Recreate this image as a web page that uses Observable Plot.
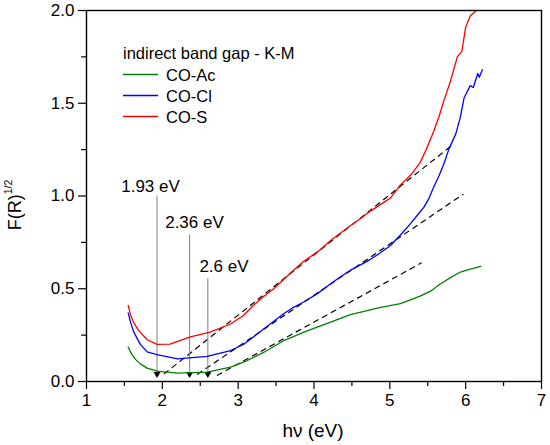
<!DOCTYPE html>
<html><head><meta charset="utf-8">
<script src="https://cdn.jsdelivr.net/npm/d3@7"></script>
<script src="https://cdn.jsdelivr.net/npm/@observablehq/plot@0.6"></script>
<style>body{margin:0;background:#fff}</style>
</head><body><div id="chart"></div>
<script>
const xTicks = [1,2,3,4,5,6,7];
const xMinor = [1.5,2.5,3.5,4.5,5.5,6.5];
const yTicks = [0,0.5,1.0,1.5,2.0];
const yMinor = [0.25,0.75,1.25,1.75];

const seriesNames = ["CO-Ac","CO-Cl","CO-S"];
const seriesColors = ["#008000","#0000ff","#ff0000"];

const acX = [1.55,1.60,1.65,1.71,1.80,1.93,2.20,2.59,2.90,3.12,3.34,3.60,3.87,4.05,4.22,4.48,4.88,5.14,5.40,5.55,5.67,5.80,5.93,6.05,6.20];
const acY = [0.185,0.145,0.118,0.095,0.072,0.056,0.045,0.05,0.077,0.113,0.158,0.22,0.266,0.295,0.32,0.36,0.40,0.42,0.46,0.49,0.527,0.56,0.59,0.605,0.62];

const clX = [1.55,1.58,1.62,1.67,1.71,1.80,1.93,2.20,2.59,2.90,3.07,3.20,3.34,3.47,3.60,3.73,3.87,4.05,4.22,4.35,4.48,4.62,4.75,4.88,5.01,5.14,5.27,5.36,5.45,5.52,5.58,5.65,5.71,5.78,5.87,5.93,5.98,6.06,6.10,6.16,6.18,6.22];
const clY = [0.37,0.32,0.27,0.23,0.20,0.16,0.145,0.122,0.135,0.167,0.20,0.24,0.284,0.325,0.365,0.40,0.43,0.475,0.527,0.565,0.60,0.63,0.66,0.695,0.733,0.79,0.85,0.895,0.94,0.99,1.05,1.11,1.17,1.254,1.335,1.425,1.53,1.595,1.585,1.66,1.64,1.68];

const sX = [1.55,1.58,1.62,1.67,1.71,1.80,1.93,2.10,2.37,2.63,2.90,3.07,3.20,3.34,3.47,3.60,3.73,3.87,4.05,4.22,4.35,4.48,4.62,4.75,4.88,5.01,5.14,5.27,5.40,5.49,5.58,5.65,5.71,5.80,5.89,5.95,6.00,6.06,6.14];
const sY = [0.41,0.36,0.32,0.285,0.265,0.225,0.20,0.202,0.24,0.266,0.31,0.356,0.41,0.46,0.50,0.55,0.60,0.65,0.70,0.76,0.80,0.84,0.88,0.92,0.955,0.99,1.06,1.11,1.18,1.26,1.35,1.43,1.51,1.62,1.75,1.78,1.91,1.97,2.00];

// tangent (dashed) segments: start and end in data units
const tanX1 = [2.02,2.46,2.72];
const tanY1 = [0.04,0.038,0.032];
const tanX2 = [5.84,5.97,5.42];
const tanY2 = [1.28,1.01,0.64];

// band-gap markers
const gapX = [1.93,2.36,2.6];
const gapTop = [1.0,0.79,0.555];
const gapLabels = ["1.93 eV","2.36 eV","2.6 eV"];
const labelX = [1.844,2.424,2.813];
const labelY = [1.019,0.825,0.589];

const curves = [];
[[acX,acY],[clX,clY],[sX,sY]].forEach(([xs,ys],i)=>{
  xs.forEach((x,j)=>curves.push({s:seriesNames[i], x, y:ys[j]}));
});
const tangents = tanX1.map((d,i)=>({x1:d,y1:tanY1[i],x2:tanX2[i],y2:tanY2[i]}));
const gaps = gapX.map((d,i)=>({x:d,top:gapTop[i],label:gapLabels[i],lx:labelX[i],ly:labelY[i]}));

const font = "'Liberation Sans', Arial, sans-serif";
const plot = Plot.plot({
  width:550, height:445,
  marginLeft:86, marginRight:9, marginTop:10, marginBottom:64,
  style:{fontFamily:font, background:"white", color:"black"},
  x:{domain:[1,7]},
  y:{domain:[0,2]},
  color:{domain:seriesNames, range:seriesColors},
  marks:[
    Plot.axisX({ticks:xTicks, tickSize:8, tickPadding:4, tickFormat:d=>String(d), label:null, fontSize:17, strokeWidth:1.2}),
    Plot.axisX({ticks:xMinor, tickSize:5, tickFormat:()=>"", label:null, strokeWidth:1.2}),
    Plot.axisY({ticks:yTicks, tickSize:8, tickPadding:4, tickFormat:d3.format(".1f"), label:null, fontSize:17, strokeWidth:1.2}),
    Plot.axisY({ticks:yMinor, tickSize:5, tickFormat:()=>"", label:null, strokeWidth:1.2}),
    Plot.link(tangents, {x1:"x1",y1:"y1",x2:"x2",y2:"y2", stroke:"black", strokeWidth:1.2, strokeDasharray:"6,4"}),
    Plot.ruleX(gaps, {x:"x", y1:0.03, y2:"top", stroke:"#808080", strokeWidth:1}),
    Plot.dot(gaps, {x:"x", y:0.04, symbol:"triangle", rotate:180, r:2.6, fill:"black", stroke:null}),
    Plot.text(gaps, {x:"lx", y:"ly", text:"label", lineAnchor:"bottom", fontSize:17, fill:"black"}),
    Plot.line(curves, {x:"x", y:"y", z:"s", stroke:"s", strokeWidth:1.3}),
    Plot.frame({stroke:"black", strokeWidth:1.4})
  ]
});

const svg = d3.select(plot);
// y label
const yl = svg.append("text")
  .attr("transform","translate(21,205) rotate(-90)")
  .attr("text-anchor","middle")
  .attr("font-family",font).attr("font-size",18).attr("fill","black");
yl.append("tspan").text("F(R)");
yl.append("tspan").attr("font-size",10.5).attr("dy",-9).text("1/2");
// x label
svg.append("text").attr("x",313).attr("y",437).attr("text-anchor","middle")
  .attr("font-family",font).attr("font-size",19).attr("fill","black").text("hν (eV)");
// legend
const lg = svg.append("g").attr("font-family",font).attr("font-size",16.5).attr("fill","black").attr("text-anchor","start");
lg.append("text").attr("x",123).attr("y",58.5).text("indirect band gap - K-M");
const rowsY = [74.5,95.5,116.5];
seriesNames.forEach((n,i)=>{
  lg.append("line").attr("x1",123).attr("x2",158).attr("y1",rowsY[i]).attr("y2",rowsY[i])
    .attr("stroke",seriesColors[i]).attr("stroke-width",1.3);
  lg.append("text").attr("x",166).attr("y",rowsY[i]+6.5).text(n);
});
document.getElementById("chart").appendChild(plot);
</script>
</body></html>
